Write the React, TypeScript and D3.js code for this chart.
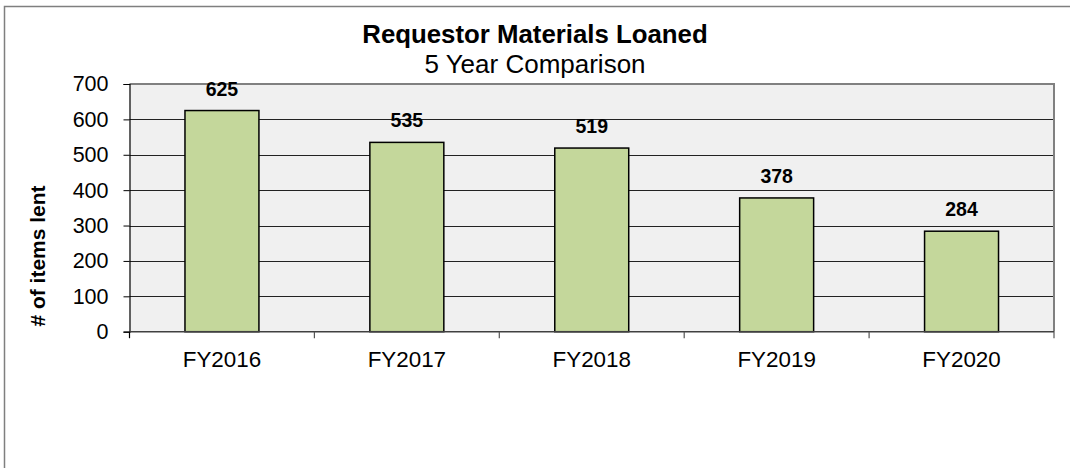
import React, { useRef, useEffect } from "react";
import * as d3 from "d3";

const categories = ["FY2016", "FY2017", "FY2018", "FY2019", "FY2020"];
const values = [625, 535, 519, 378, 284];
const yTicks = [0, 100, 200, 300, 400, 500, 600, 700];
const title = "Requestor Materials Loaned";
const subtitle = "5 Year Comparison";
const yTitle = "# of items lent";

const W = 1070;
const H = 468;
const FONT = "'Liberation Sans', Arial, sans-serif";

const App: React.FC = () => {
  const svgRef = useRef<SVGSVGElement>(null);

  useEffect(() => {
    const svg = d3.select(svgRef.current);
    svg.selectAll("*").remove();

    const plot = { left: 129.5, right: 1054, top: 84, bottom: 331.7 };

    // outer chart border, runs off the right/bottom edge
    svg.append("rect")
      .attr("x", 4.5).attr("y", 6.5)
      .attr("width", 1100).attr("height", 500)
      .attr("fill", "#fff")
      .attr("stroke", "#7f7f7f")
      .attr("stroke-width", 1.5);

    const x = d3.scaleBand().domain(categories).range([plot.left, plot.right]).paddingInner(0.6).paddingOuter(0.3);
    const y = d3.scaleLinear().domain([0, 700]).range([plot.bottom, plot.top]);
    const step = (plot.right - plot.left) / categories.length;

    // plot background
    svg.append("rect")
      .attr("x", plot.left).attr("y", plot.top)
      .attr("width", plot.right - plot.left).attr("height", plot.bottom - plot.top)
      .attr("fill", "#f0f0f0");

    // gridlines
    svg.append("g")
      .selectAll("line")
      .data(yTicks.filter(d => d > 0 && d < 700))
      .enter()
      .append("line")
      .attr("x1", plot.left).attr("x2", plot.right)
      .attr("y1", d => Math.round(y(d)) + 0.5).attr("y2", d => Math.round(y(d)) + 0.5)
      .attr("stroke", "#222")
      .attr("stroke-width", 1);

    // top + right plot border (gray)
    svg.append("path")
      .attr("d", `M${plot.left},${plot.top}H${plot.right}V${plot.bottom}`)
      .attr("fill", "none")
      .attr("stroke", "#808080")
      .attr("stroke-width", 2);

    // bars
    svg.append("g")
      .selectAll("rect")
      .data(values)
      .enter()
      .append("rect")
      .attr("x", (_, i) => x(categories[i])!)
      .attr("y", d => y(d))
      .attr("width", x.bandwidth())
      .attr("height", d => y(0) - y(d))
      .attr("fill", "#c4d79b")
      .attr("stroke", "#000")
      .attr("stroke-width", 1.5);

    // value labels
    svg.append("g")
      .selectAll("text")
      .data(values)
      .enter()
      .append("text")
      .attr("x", (_, i) => x(categories[i])! + x.bandwidth() / 2)
      .attr("y", d => y(d) - 15)
      .attr("text-anchor", "middle")
      .attr("font-family", FONT)
      .attr("font-weight", "bold")
      .attr("font-size", 19.5)
      .text(d => d);

    // y axis
    const yAxis = svg.append("g").attr("transform", `translate(${plot.left},0)`)
      .call(d3.axisLeft(y).tickValues(yTicks).tickSize(6).tickPadding(15));
    yAxis.select(".domain").attr("stroke", "#000").attr("stroke-width", 1.2);
    yAxis.selectAll(".tick line").attr("stroke", "#000");
    yAxis.selectAll(".tick text")
      .attr("font-family", FONT)
      .attr("font-size", 21.5)
      .attr("fill", "#000");

    // x axis line + category boundary ticks
    svg.append("line")
      .attr("x1", plot.left).attr("x2", plot.right)
      .attr("y1", plot.bottom).attr("y2", plot.bottom)
      .attr("stroke", "#404040").attr("stroke-width", 1.5);
    svg.append("g")
      .selectAll("line")
      .data(d3.range(categories.length + 1))
      .enter()
      .append("line")
      .attr("x1", i => plot.left + i * step).attr("x2", i => plot.left + i * step)
      .attr("y1", plot.bottom).attr("y2", plot.bottom + 6.5)
      .attr("stroke", i => (i === 0 ? "#000" : "#555"))
      .attr("stroke-width", 1.2);

    svg.append("g")
      .selectAll("text")
      .data(categories)
      .enter()
      .append("text")
      .attr("x", d => x(d)! + x.bandwidth() / 2)
      .attr("y", 366.7)
      .attr("text-anchor", "middle")
      .attr("font-family", FONT)
      .attr("font-size", 22.4)
      .text(d => d);

    // titles
    svg.append("text")
      .attr("x", W / 2).attr("y", 42.7)
      .attr("text-anchor", "middle")
      .attr("font-family", FONT)
      .attr("font-weight", "bold")
      .attr("font-size", 25.8)
      .text(title);
    svg.append("text")
      .attr("x", W / 2).attr("y", 72.5)
      .attr("text-anchor", "middle")
      .attr("font-family", FONT)
      .attr("font-size", 26)
      .text(subtitle);

    svg.append("text")
      .attr("transform", `translate(44.5,256) rotate(-90)`)
      .attr("text-anchor", "middle")
      .attr("font-family", FONT)
      .attr("font-weight", "bold")
      .attr("font-size", 21)
      .text(yTitle);
  }, []);

  return (
    <svg
      ref={svgRef}
      width={W}
      height={H}
      style={{ position: "absolute", left: 0, top: 0, background: "#fff" }}
    />
  );
};

export default App;
